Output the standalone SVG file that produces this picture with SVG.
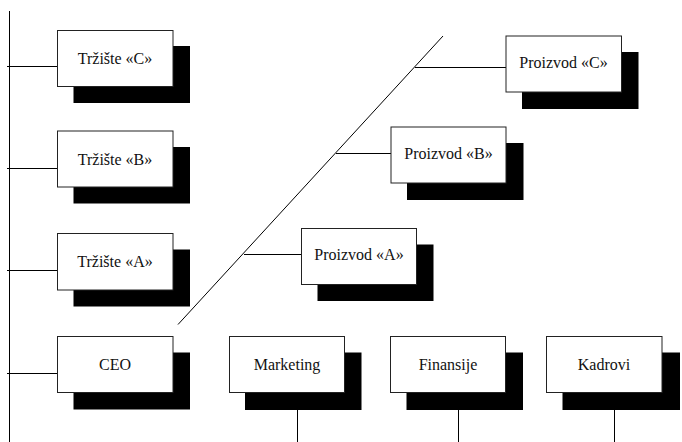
<svg xmlns="http://www.w3.org/2000/svg" width="682" height="442" viewBox="0 0 682 442">
  <style>
    .shadow { fill: #000; }
    .box { fill: #fff; stroke: #222; stroke-width: 1; }
    .label { font-family: "Liberation Serif", "Times New Roman", serif; font-size: 16px; fill: #111; text-anchor: middle; }
    .link { stroke: #000; stroke-width: 1; fill: none; }
  </style>

  <!-- connectors -->
  <g id="connectors">
    <line class="link" x1="9.5" y1="11" x2="9.5" y2="442"/>
    <line class="link" x1="7" y1="66.5" x2="57.5" y2="66.5"/>
    <line class="link" x1="7" y1="168.5" x2="57.5" y2="168.5"/>
    <line class="link" x1="7" y1="270.5" x2="57.5" y2="270.5"/>
    <line class="link" x1="7" y1="373.5" x2="57.5" y2="373.5"/>
    <line class="link" x1="178" y1="324.5" x2="443" y2="36"/>
    <line class="link" x1="244" y1="254.5" x2="301.5" y2="254.5"/>
    <line class="link" x1="336" y1="153.5" x2="391" y2="153.5"/>
    <line class="link" x1="415" y1="67.5" x2="506" y2="67.5"/>
    <line class="link" x1="297.5" y1="410" x2="297.5" y2="442"/>
    <line class="link" x1="458.5" y1="410" x2="458.5" y2="442"/>
    <line class="link" x1="614.5" y1="410" x2="614.5" y2="442"/>
  </g>

  <g id="trziste-c">
    <rect class="shadow" x="73.5" y="46" width="116.5" height="57"/>
    <rect class="box" x="57.5" y="30.5" width="115.5" height="56"/>
    <text class="label" x="115" y="64">Tržište «C»</text>
  </g>
  <g id="trziste-b">
    <rect class="shadow" x="73.5" y="147" width="116.5" height="56.5"/>
    <rect class="box" x="57.5" y="131" width="115.5" height="56"/>
    <text class="label" x="115" y="165">Tržište «B»</text>
  </g>
  <g id="trziste-a">
    <rect class="shadow" x="73.5" y="249.5" width="116.5" height="57"/>
    <rect class="box" x="57.5" y="233.5" width="115.5" height="56.5"/>
    <text class="label" x="115" y="267">Tržište «A»</text>
  </g>
  <g id="ceo">
    <rect class="shadow" x="73.5" y="352.5" width="116.5" height="57"/>
    <rect class="box" x="57.5" y="336.5" width="115.5" height="56"/>
    <text class="label" x="115" y="370">CEO</text>
  </g>
  <g id="marketing">
    <rect class="shadow" x="245" y="352.5" width="116.5" height="57.5"/>
    <rect class="box" x="229.5" y="336.5" width="115" height="56"/>
    <text class="label" x="287" y="370">Marketing</text>
  </g>
  <g id="finansije">
    <rect class="shadow" x="406.5" y="352.5" width="116.5" height="57.5"/>
    <rect class="box" x="390.5" y="336.5" width="115" height="56"/>
    <text class="label" x="448" y="370">Finansije</text>
  </g>
  <g id="kadrovi">
    <rect class="shadow" x="562.5" y="352.5" width="117.5" height="57.5"/>
    <rect class="box" x="546.5" y="336.5" width="115.5" height="56"/>
    <text class="label" x="604" y="370">Kadrovi</text>
  </g>
  <g id="proizvod-a">
    <rect class="shadow" x="317.5" y="244.5" width="116" height="56.5"/>
    <rect class="box" x="301.5" y="228.5" width="115" height="56"/>
    <text class="label" x="359" y="260">Proizvod «A»</text>
  </g>
  <g id="proizvod-b">
    <rect class="shadow" x="407" y="143" width="116.5" height="57"/>
    <rect class="box" x="391" y="127" width="115" height="56"/>
    <text class="label" x="448.5" y="159">Proizvod «B»</text>
  </g>
  <g id="proizvod-c">
    <rect class="shadow" x="522" y="52" width="116.5" height="57"/>
    <rect class="box" x="506" y="36" width="115.5" height="56"/>
    <text class="label" x="563.5" y="68">Proizvod «C»</text>
  </g>
</svg>
